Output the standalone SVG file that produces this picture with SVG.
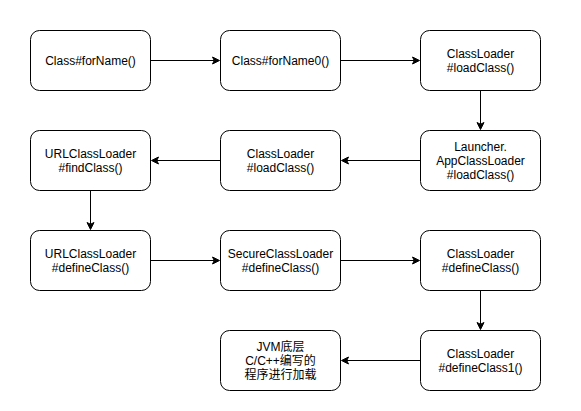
<svg xmlns="http://www.w3.org/2000/svg" width="581" height="411" viewBox="0 0 581 411">
<defs>
<style>
.box{fill:#fff;stroke:#000;stroke-width:1}
.t{font-family:"Liberation Sans",Arial,"Noto Sans CJK SC",sans-serif;font-size:12px;fill:#000;text-anchor:middle}
.e{stroke:#000;stroke-width:1;fill:none}
.ah{fill:#000;stroke:#000;stroke-width:1}
</style>
</defs>
<rect width="581" height="411" fill="#fff"/>
<g id="n1"><rect class="box" x="30.5" y="30.5" width="120" height="60" rx="9"/><text class="t" x="90.5" y="64.5">Class#forName()</text></g>
<g id="n2"><rect class="box" x="220.5" y="30.5" width="120" height="60" rx="9"/><text class="t" x="280.5" y="64.5">Class#forName0()</text></g>
<g id="n3"><rect class="box" x="420.5" y="30.5" width="120" height="60" rx="9"/><text class="t" x="480.5" y="57.5">ClassLoader</text><text class="t" x="480.5" y="71.5">#loadClass()</text></g>
<g id="n4"><rect class="box" x="420.5" y="130.5" width="120" height="60" rx="9"/><text class="t" x="480.5" y="150.5">Launcher.</text><text class="t" x="480.5" y="164.5">AppClassLoader</text><text class="t" x="480.5" y="178.5">#loadClass()</text></g>
<g id="n5"><rect class="box" x="220.5" y="130.5" width="120" height="60" rx="9"/><text class="t" x="280.5" y="157.5">ClassLoader</text><text class="t" x="280.5" y="171.5">#loadClass()</text></g>
<g id="n6"><rect class="box" x="30.5" y="130.5" width="120" height="60" rx="9"/><text class="t" x="90.5" y="157.5">URLClassLoader</text><text class="t" x="90.5" y="171.5">#findClass()</text></g>
<g id="n7"><rect class="box" x="30.5" y="230.5" width="120" height="60" rx="9"/><text class="t" x="90.5" y="257.5">URLClassLoader</text><text class="t" x="90.5" y="271.5">#defineClass()</text></g>
<g id="n8"><rect class="box" x="220.5" y="230.5" width="120" height="60" rx="9"/><text class="t" x="280.5" y="257.5">SecureClassLoader</text><text class="t" x="280.5" y="271.5">#defineClass()</text></g>
<g id="n9"><rect class="box" x="420.5" y="230.5" width="120" height="60" rx="9"/><text class="t" x="480.5" y="257.5">ClassLoader</text><text class="t" x="480.5" y="271.5">#defineClass()</text></g>
<g id="n10"><rect class="box" x="420.5" y="330.5" width="120" height="60" rx="9"/><text class="t" x="480.5" y="357.5">ClassLoader</text><text class="t" x="480.5" y="371.5">#defineClass1()</text></g>
<g id="n11"><rect class="box" x="220.5" y="330.5" width="120" height="60" rx="9"/><text class="t" x="280.5" y="350.5">JVM底层</text><text class="t" x="280.5" y="364.5">C/C++编写的</text><text class="t" x="280.5" y="378.5">程序进行加载</text></g>
<g id="edges">
<path class="e" d="M150.5 60.5H214"/><path class="ah" d="M219.5 60.5L212.5 64L214.25 60.5L212.5 57Z"/>
<path class="e" d="M340.5 60.5H414"/><path class="ah" d="M419.5 60.5L412.5 64L414.25 60.5L412.5 57Z"/>
<path class="e" d="M480.5 90.5V124"/><path class="ah" d="M480.5 129.5L477 122.5L480.5 124.25L484 122.5Z"/>
<path class="e" d="M420.5 160.5H347"/><path class="ah" d="M341.5 160.5L348.5 157L346.75 160.5L348.5 164Z"/>
<path class="e" d="M220.5 160.5H157"/><path class="ah" d="M151.5 160.5L158.5 157L156.75 160.5L158.5 164Z"/>
<path class="e" d="M90.5 190.5V224"/><path class="ah" d="M90.5 229.5L87 222.5L90.5 224.25L94 222.5Z"/>
<path class="e" d="M150.5 260.5H214"/><path class="ah" d="M219.5 260.5L212.5 264L214.25 260.5L212.5 257Z"/>
<path class="e" d="M340.5 260.5H414"/><path class="ah" d="M419.5 260.5L412.5 264L414.25 260.5L412.5 257Z"/>
<path class="e" d="M480.5 290.5V324"/><path class="ah" d="M480.5 329.5L477 322.5L480.5 324.25L484 322.5Z"/>
<path class="e" d="M420.5 360.5H347"/><path class="ah" d="M341.5 360.5L348.5 357L346.75 360.5L348.5 364Z"/>
</g>
</svg>
